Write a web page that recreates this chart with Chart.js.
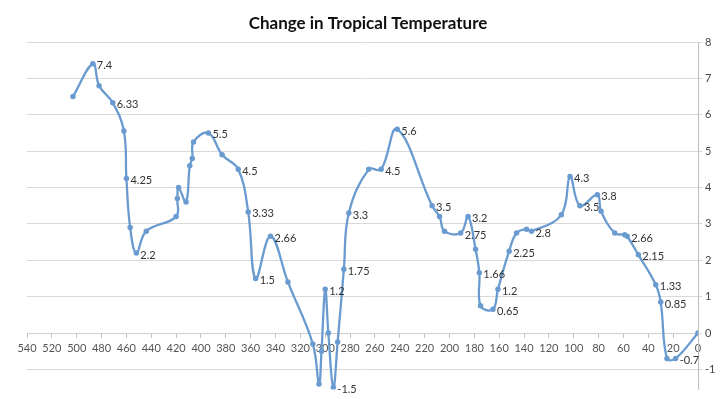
<!DOCTYPE html>
<html lang="en">
<head>
    <meta charset="UTF-8">
    <title>Change in Tropical Temperature</title>
    <script src="https://cdn.jsdelivr.net/npm/chart.js"></script>
    <style>
        html, body { margin: 0; padding: 0; background: #fff; }
        #wrap { width: 720px; height: 399px; }
    </style>
</head>
<body>
    <div id="wrap"><canvas id="temp-chart" width="720" height="399"></canvas></div>

    <script>
        // millions of years ago
        const ages = [503, 487, 482, 471, 462, 460, 457, 452, 444, 420, 419, 418, 412, 409, 407, 406, 394, 383, 370, 362,
                      356, 344, 330, 310, 305, 303, 300, 297.5, 293.5, 290, 285, 281, 265, 255, 242, 214, 208, 204, 191, 185,
                      179, 176, 175, 165, 161, 152, 146, 138, 134, 110, 103, 95, 81, 78, 67, 59, 57, 48, 34, 30, 25, 18, 0];
        // temperature change
        const temps = [6.5, 7.4, 6.8, 6.33, 5.55, 4.25, 2.9, 2.2, 2.8, 3.2, 3.7, 4.0, 3.6, 4.6, 4.8, 5.25, 5.5, 4.9, 4.5, 3.33,
                       1.5, 2.66, 1.4, -0.3, -1.4, -0.5, 1.2, 0, -1.5, -0.25, 1.75, 3.3, 4.5, 4.5, 5.6, 3.5, 3.2, 2.8, 2.75, 3.2,
                       2.3, 1.66, 0.75, 0.65, 1.2, 2.25, 2.75, 2.85, 2.8, 3.25, 4.3, 3.5, 3.8, 3.35, 2.75, 2.7, 2.66, 2.15, 1.33, 0.85, -0.7, -0.7, 0];
        // which points get a value label
        const shown = [null, '7.4', null, '6.33', null, '4.25', null, '2.2', null, null, null, null, null, null, null, null, '5.5', null, '4.5', '3.33',
                       '1.5', '2.66', null, null, null, null, '1.2', null, '-1.5', null, '1.75', '3.3', null, '4.5', '5.6', '3.5', null, null, '2.75', '3.2',
                       null, '1.66', null, '0.65', '1.2', '2.25', null, null, '2.8', null, '4.3', '3.5', '3.8', null, null, null, '2.66', '2.15', '1.33', '0.85', null, '-0.7', null];
        const xTicks = [540, 520, 500, 480, 460, 440, 420, 400, 380, 360, 340, 320, 300, 280, 260, 240, 220, 200, 180, 160, 140, 120, 100, 80, 60, 40, 20, 0];
        const yTicks = [-1, 0, 1, 2, 3, 4, 5, 6, 7, 8];

        const points = ages.map((a, i) => ({ x: a, y: temps[i] }));

        // value labels to the right of the points
        const pointLabels = {
            id: 'pointLabels',
            afterDatasetsDraw(chart) {
                const ctx = chart.ctx;
                const meta = chart.getDatasetMeta(0);
                ctx.save();
                ctx.font = '11px Lato';
                ctx.fillStyle = '#333';
                ctx.textAlign = 'left';
                ctx.textBaseline = 'middle';
                meta.data.forEach((pt, i) => {
                    if (shown[i]) ctx.fillText(shown[i], pt.x + 4, pt.y + 2);
                });
                ctx.restore();
            }
        };

        const titlePlugin = {
            id: 'titleText',
            afterDraw(chart) {
                const ctx = chart.ctx;
                ctx.save();
                ctx.font = 'bold 17px Lato';
                ctx.fillStyle = '#111';
                ctx.textAlign = 'center';
                ctx.textBaseline = 'middle';
                ctx.fillText('Change in Tropical Temperature', 368, 24);
                ctx.restore();
            }
        };

        new Chart(document.getElementById('temp-chart').getContext('2d'), {
            type: 'scatter',
            data: {
                datasets: [{
                    data: points,
                    showLine: true,
                    borderColor: '#6a9bd0',
                    backgroundColor: '#6a9bd0',
                    borderWidth: 2.3,
                    tension: 0.4,
                    pointRadius: 1.6,
                    pointHoverRadius: 1.6
                }]
            },
            options: {
                responsive: false,
                animation: false,
                layout: { padding: { top: 42, left: 27, right: 0, bottom: 0 } },
                plugins: { legend: { display: false }, tooltip: { enabled: false }, title: { display: false } },
                scales: {
                    x: {
                        type: 'linear',
                        reverse: true,
                        min: 0,
                        max: 540,
                        position: { y: 0 },
                        afterBuildTicks: s => { s.ticks = xTicks.map(v => ({ value: v })); },
                        ticks: { font: { family: 'Lato', size: 11 }, color: '#555', maxRotation: 0, autoSkip: false, padding: 5 },
                        grid: { drawOnChartArea: false, drawTicks: true, tickLength: 4, color: '#bfbfbf' },
                        border: { color: '#d0d0d0' }
                    },
                    y: {
                        position: 'right',
                        min: -1.55,
                        max: 8,
                        afterBuildTicks: s => { s.ticks = yTicks.map(v => ({ value: v })); },
                        afterFit: s => { s.width = 22; },
                        ticks: { font: { family: 'Lato', size: 11 }, color: '#444', padding: 3 },
                        grid: { color: '#d9d9d9', tickLength: 4 },
                        border: { color: '#bfbfbf' }
                    }
                }
            },
            plugins: [pointLabels, titlePlugin]
        });
    </script>
</body>
</html>
